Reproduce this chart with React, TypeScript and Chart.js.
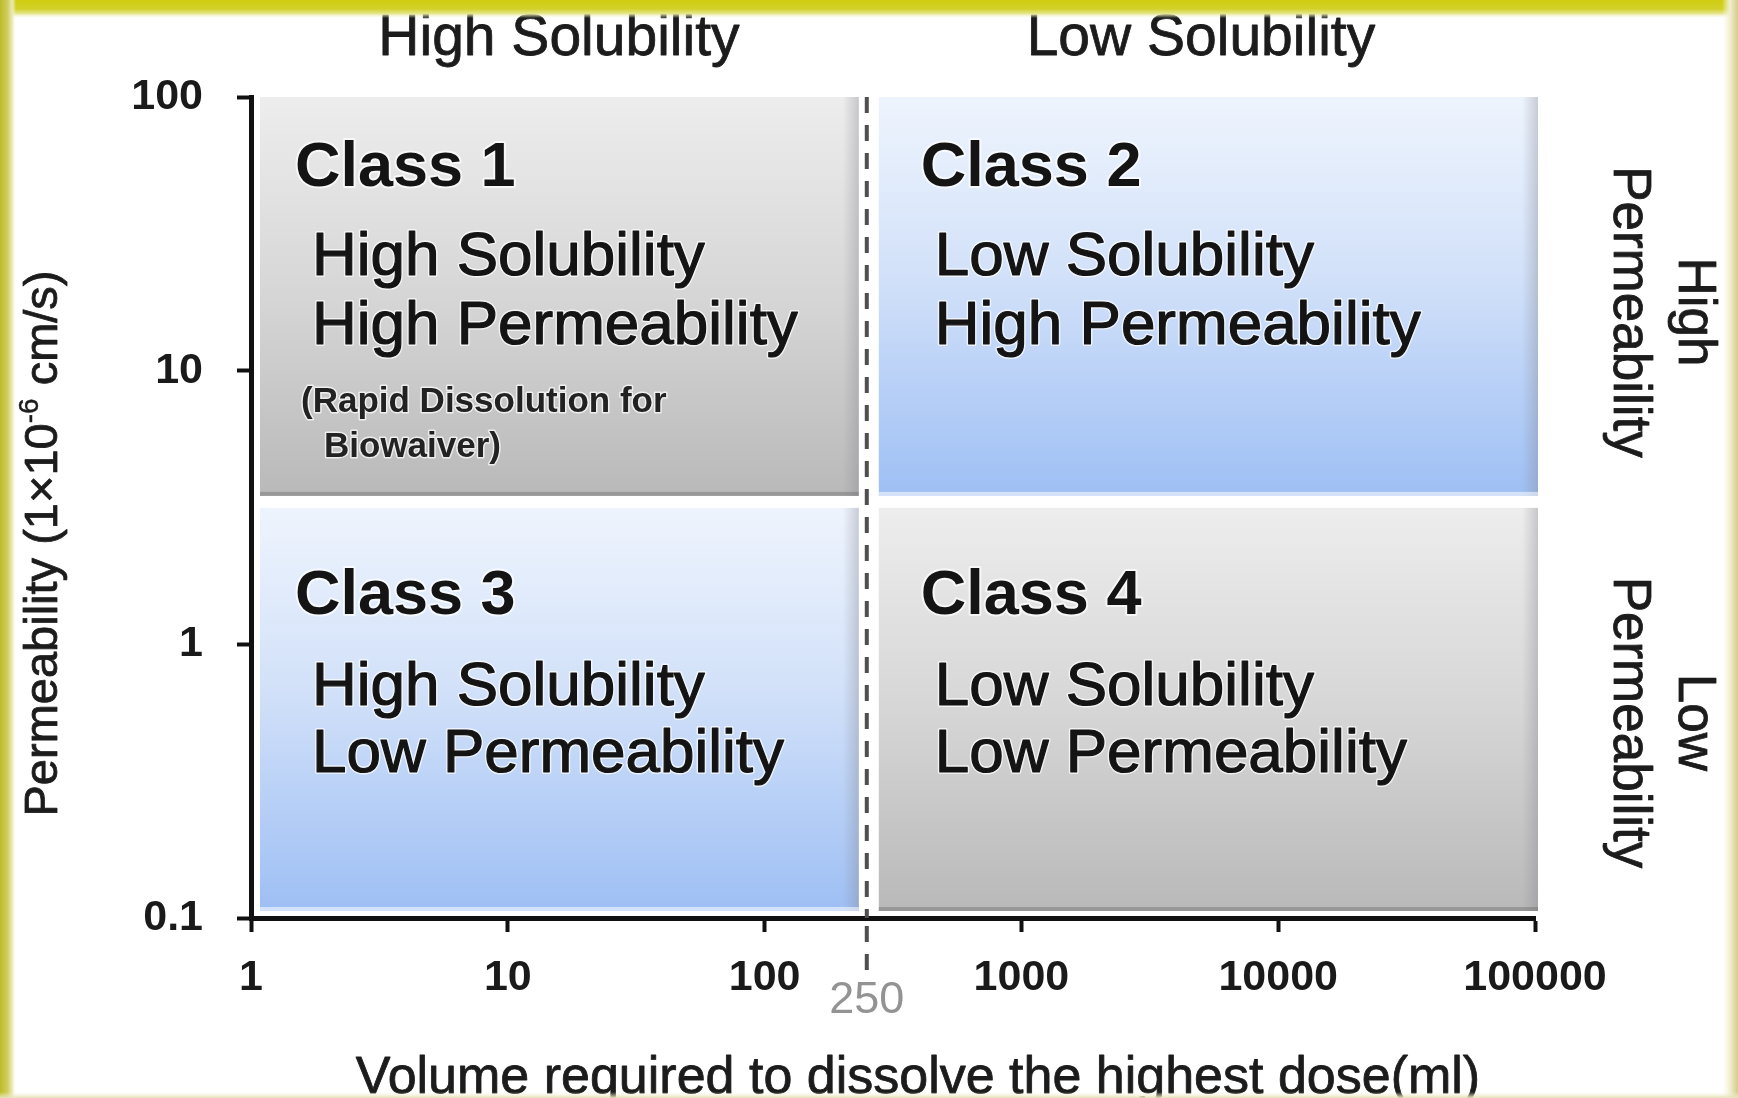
import React, { useEffect, useRef } from 'react';
import { Chart, registerables } from 'chart.js';

Chart.register(...registerables);

// ---------------- data ----------------
const xTickValues = [1, 10, 100, 1000, 10000, 100000];
const yTickValues = [0.1, 1, 10, 100];
const xLimits = [1, 100000];
const yLimits = [0.1, 100];
const solubilityCutoff = 250; // ml
const permeabilityCutoff = 3.4; // x10^-6 cm/s (boundary between rows)
const columnHeaders = ['High Solubility', 'Low Solubility'];
const rowHeaders = [['High', 'Permeability'], ['Low', 'Permeability']];
const classNames = ['Class 1', 'Class 2', 'Class 3', 'Class 4'];
const classSolubility = ['High Solubility', 'Low Solubility', 'High Solubility', 'Low Solubility'];
const classPermeability = ['High Permeability', 'High Permeability', 'Low Permeability', 'Low Permeability'];
const classNote = ['(Rapid Dissolution for', 'Biowaiver)'];
const classTone = ['gray', 'blue', 'blue', 'gray'];
const xAxisTitle = 'Volume required to dissolve the highest dose(ml)';
const yAxisTitleParts = ['Permeability (1\u00d710', '-6', ' cm/s)'];
const cutoffLabel = String(solubilityCutoff);

const colBounds = [
  [xLimits[0], solubilityCutoff],
  [solubilityCutoff, xLimits[1]],
];
const rowBounds = [
  [permeabilityCutoff, yLimits[1]],
  [yLimits[0], permeabilityCutoff],
];

const SANS = '"Liberation Sans", Arial, Helvetica, sans-serif';
const INK = '#141414';

function paintText(ctx: any, text: string, x: number, y: number, font: string, color: string, halo = 0, thicken = 0) {
  ctx.font = font;
  if (halo) {
    ctx.lineJoin = 'round';
    ctx.strokeStyle = 'rgba(255,255,255,0.7)';
    ctx.lineWidth = halo;
    ctx.strokeText(text, x, y);
  }
  ctx.fillStyle = color;
  ctx.fillText(text, x, y);
  if (thicken) {
    ctx.lineJoin = 'round';
    ctx.strokeStyle = color;
    ctx.lineWidth = thicken;
    ctx.strokeText(text, x, y);
  }
}

function quadRect(chart: any, i: number) {
  const xs = chart.scales.x;
  const ys = chart.scales.y;
  const col = i % 2;
  const row = Math.floor(i / 2);
  const [xa, xb] = colBounds[col];
  const [ya, yb] = rowBounds[row];
  let left = xs.getPixelForValue(xa);
  let right = xs.getPixelForValue(xb);
  let top = ys.getPixelForValue(yb);
  let bottom = ys.getPixelForValue(ya);
  left += col === 0 ? 9 : 12;
  right += col === 0 ? -8 : 3;
  top += row === 0 ? 0 : 9;
  bottom += row === 0 ? -3 : -7;
  return { left, right, top, bottom, col, row };
}

const bcsPlugin = {
  id: 'bcsQuadrants',
  beforeDraw(chart: any) {
    const { ctx, width, height } = chart;
    ctx.save();
    ctx.fillStyle = '#ffffff';
    ctx.fillRect(0, 0, width, height);
    ctx.restore();
  },
  beforeDatasetsDraw(chart: any) {
    const { ctx } = chart;
    ctx.save();
    classNames.forEach((_, i) => {
      const r = quadRect(chart, i);
      const w = r.right - r.left;
      const h = r.bottom - r.top;
      const g = ctx.createLinearGradient(0, r.top, 0, r.bottom);
      if (classTone[i] === 'gray') {
        g.addColorStop(0, '#ededed');
        g.addColorStop(0.5, '#d6d6d6');
        g.addColorStop(1, '#b9b9b9');
      } else {
        g.addColorStop(0, '#eef4fd');
        g.addColorStop(0.45, '#d2e1f9');
        g.addColorStop(1, '#9ebff4');
      }
      ctx.fillStyle = g;
      ctx.fillRect(r.left, r.top, w, h);
      // right edge shading
      const sg = ctx.createLinearGradient(r.right - 16, 0, r.right, 0);
      sg.addColorStop(0, 'rgba(130,130,140,0)');
      sg.addColorStop(1, 'rgba(130,130,140,0.35)');
      ctx.fillStyle = sg;
      ctx.fillRect(r.right - 16, r.top, 16, h);
      // bottom edge line
      ctx.fillStyle = classTone[i] === 'gray' ? 'rgba(110,110,110,0.45)' : 'rgba(255,255,255,0.55)';
      ctx.fillRect(r.left, r.bottom - 4, w, 4);
    });

    // class texts
    const labelDy = [[89, 178, 247], [106, 197, 264]];
    const labelDx = [[35, 52], [42, 56]];
    ctx.textAlign = 'left';
    ctx.textBaseline = 'alphabetic';
    classNames.forEach((name, i) => {
      const r = quadRect(chart, i);
      const dy = labelDy[r.row];
      const dx = labelDx[r.col];
      paintText(ctx, name, r.left + dx[0], r.top + dy[0], `bold 63px ${SANS}`, INK, 4);
      paintText(ctx, classSolubility[i], r.left + dx[1], r.top + dy[1], `62px ${SANS}`, INK, 4, 1.2);
      paintText(ctx, classPermeability[i], r.left + dx[1], r.top + dy[2], `62px ${SANS}`, INK, 4, 1.2);
      if (i === 0) {
        paintText(ctx, classNote[0], r.left + 41, r.top + 315, `bold 35px ${SANS}`, '#222', 3);
        paintText(ctx, classNote[1], r.left + 64, r.top + 360, `bold 35px ${SANS}`, '#222', 3);
      }
    });
    ctx.restore();
  },
  afterDraw(chart: any) {
    const { ctx, chartArea, scales, width: W, height: H } = chart;
    const xs = scales.x;
    const ys = scales.y;
    ctx.save();

    // dashed cutoff continuing below the axis
    const cx = xs.getPixelForValue(solubilityCutoff);
    ctx.setLineDash([16, 12]);
    ctx.lineDashOffset = 0;
    ctx.strokeStyle = '#4f4f4f';
    ctx.lineWidth = 4;
    ctx.beginPath();
    ctx.moveTo(cx, chartArea.bottom + 8);
    ctx.lineTo(cx, chartArea.bottom + 60);
    ctx.stroke();
    ctx.setLineDash([]);

    // cutoff value label
    ctx.textAlign = 'center';
    ctx.textBaseline = 'alphabetic';
    paintText(ctx, cutoffLabel, cx, chartArea.bottom + 95, `45px ${SANS}`, '#939393');

    // column headers
    columnHeaders.forEach((t, c) => {
      const [a, b] = colBounds[c];
      const mid = (xs.getPixelForValue(a) + xs.getPixelForValue(b)) / 2;
      paintText(ctx, t, mid, chartArea.top - 42, `57px ${SANS}`, '#1c1c1c', 0, 0.8);
    });

    // row headers (rotated, reading downward)
    rowHeaders.forEach((lines, rIdx) => {
      const [a, b] = rowBounds[rIdx];
      const mid = (ys.getPixelForValue(a) + ys.getPixelForValue(b)) / 2 + 14;
      const xPos = [chartArea.right + 159, chartArea.right + 94];
      lines.forEach((line, k) => {
        ctx.save();
        ctx.translate(xPos[k], mid);
        ctx.rotate(Math.PI / 2);
        ctx.textAlign = 'center';
        ctx.textBaseline = 'middle';
        paintText(ctx, line, 0, 0, `53px ${SANS}`, '#1c1c1c', 0, 0.8);
        ctx.restore();
      });
    });

    // x axis title
    ctx.textAlign = 'center';
    ctx.textBaseline = 'alphabetic';
    paintText(ctx, xAxisTitle, (chartArea.left + chartArea.right) / 2 + 25, H - 5, `52px ${SANS}`, '#1c1c1c', 0, 0.8);

    // y axis title with superscript
    ctx.save();
    const ty = (chartArea.top + chartArea.bottom) / 2 + 36;
    ctx.translate(44, ty);
    ctx.rotate(-Math.PI / 2);
    ctx.textAlign = 'left';
    ctx.textBaseline = 'middle';
    const mainFont = `47px ${SANS}`;
    const supFont = `28px ${SANS}`;
    ctx.font = mainFont;
    const w0 = ctx.measureText(yAxisTitleParts[0]).width;
    const w2 = ctx.measureText(yAxisTitleParts[2]).width;
    ctx.font = supFont;
    const w1 = ctx.measureText(yAxisTitleParts[1]).width;
    let px = -(w0 + w1 + w2) / 2;
    paintText(ctx, yAxisTitleParts[0], px, 0, mainFont, '#1c1c1c', 0, 0.8);
    px += w0;
    paintText(ctx, yAxisTitleParts[1], px, -14, supFont, '#1c1c1c', 0, 0.5);
    px += w1;
    paintText(ctx, yAxisTitleParts[2], px, 0, mainFont, '#1c1c1c', 0, 0.8);
    ctx.restore();

    // yellow frame
    let g = ctx.createLinearGradient(0, 0, 0, 18);
    g.addColorStop(0, '#cfcc10');
    g.addColorStop(0.5, '#d3d12a');
    g.addColorStop(0.75, '#e6e58e');
    g.addColorStop(1, 'rgba(245,245,215,0)');
    ctx.fillStyle = g;
    ctx.fillRect(0, 0, W, 18);
    g = ctx.createLinearGradient(0, 0, 16, 0);
    g.addColorStop(0, '#bdbb2a');
    g.addColorStop(0.45, '#cfcd5a');
    g.addColorStop(0.75, '#e9e8b4');
    g.addColorStop(1, 'rgba(250,250,225,0)');
    ctx.fillStyle = g;
    ctx.fillRect(0, 0, 16, H);
    g = ctx.createLinearGradient(W - 16, 0, W, 0);
    g.addColorStop(0, 'rgba(250,248,225,0)');
    g.addColorStop(0.5, '#f1edd0');
    g.addColorStop(1, '#d3cc88');
    ctx.fillStyle = g;
    ctx.fillRect(W - 16, 0, 16, H);
    g = ctx.createLinearGradient(0, H - 6, 0, H);
    g.addColorStop(0, 'rgba(245,242,215,0)');
    g.addColorStop(1, '#e6e1b8');
    ctx.fillStyle = g;
    ctx.fillRect(0, H - 6, W, 6);

    ctx.restore();
  },
};

export default function App() {
  const ref = useRef<HTMLCanvasElement>(null);

  useEffect(() => {
    const canvas = ref.current;
    if (!canvas) return;
    const tickFont = { family: SANS, size: 43, weight: 'bold' as const };
    const chart = new Chart(canvas, {
      type: 'scatter',
      data: {
        datasets: [
          {
            label: 'Solubility cutoff',
            data: [
              { x: solubilityCutoff, y: yLimits[1] },
              { x: solubilityCutoff, y: yLimits[0] },
            ],
            showLine: true,
            borderColor: '#4f4f4f',
            borderWidth: 4,
            borderDash: [16, 12],
            pointRadius: 0,
            clip: false as any,
          },
        ],
      },
      options: {
        responsive: false,
        maintainAspectRatio: false,
        animation: false,
        events: [],
        layout: { padding: { left: 16, right: 203, top: 97, bottom: 0 } },
        plugins: {
          legend: { display: false },
          tooltip: { enabled: false },
          title: { display: false },
        },
        scales: {
          x: {
            type: 'logarithmic',
            position: 'bottom',
            min: xLimits[0],
            max: xLimits[1],
            afterBuildTicks: (scale: any) => {
              scale.ticks = xTickValues.map((v) => ({ value: v }));
            },
            afterFit: (scale: any) => {
              scale.height = 180;
            },
            ticks: {
              callback: (v: any) => String(v),
              font: tickFont,
              color: '#1a1a1a',
              padding: 20,
              maxRotation: 0,
              autoSkip: false,
            },
            grid: {
              display: true,
              drawOnChartArea: false,
              drawTicks: true,
              tickLength: 14,
              tickWidth: 4,
              tickColor: '#111',
              color: 'rgba(0,0,0,0)',
            },
            border: { display: true, color: '#111', width: 5 },
            title: { display: false },
          },
          y: {
            type: 'logarithmic',
            position: 'left',
            min: yLimits[0],
            max: yLimits[1],
            afterBuildTicks: (scale: any) => {
              scale.ticks = yTickValues.map((v) => ({ value: v }));
            },
            afterFit: (scale: any) => {
              scale.width = 235;
            },
            ticks: {
              callback: (v: any) => String(v),
              font: tickFont,
              color: '#1a1a1a',
              padding: 34,
              autoSkip: false,
            },
            grid: {
              display: true,
              drawOnChartArea: false,
              drawTicks: true,
              tickLength: 14,
              tickWidth: 4,
              tickColor: '#111',
              color: 'rgba(0,0,0,0)',
            },
            border: { display: true, color: '#111', width: 5 },
            title: { display: false },
          },
        },
      },
      plugins: [bcsPlugin],
    });
    return () => chart.destroy();
  }, []);

  return (
    <div style={{ position: 'fixed', left: 0, top: 0, width: 1738, height: 1098, background: '#fff' }}>
      <canvas ref={ref} width={1738} height={1098} style={{ width: 1738, height: 1098, display: 'block' }} />
    </div>
  );
}
